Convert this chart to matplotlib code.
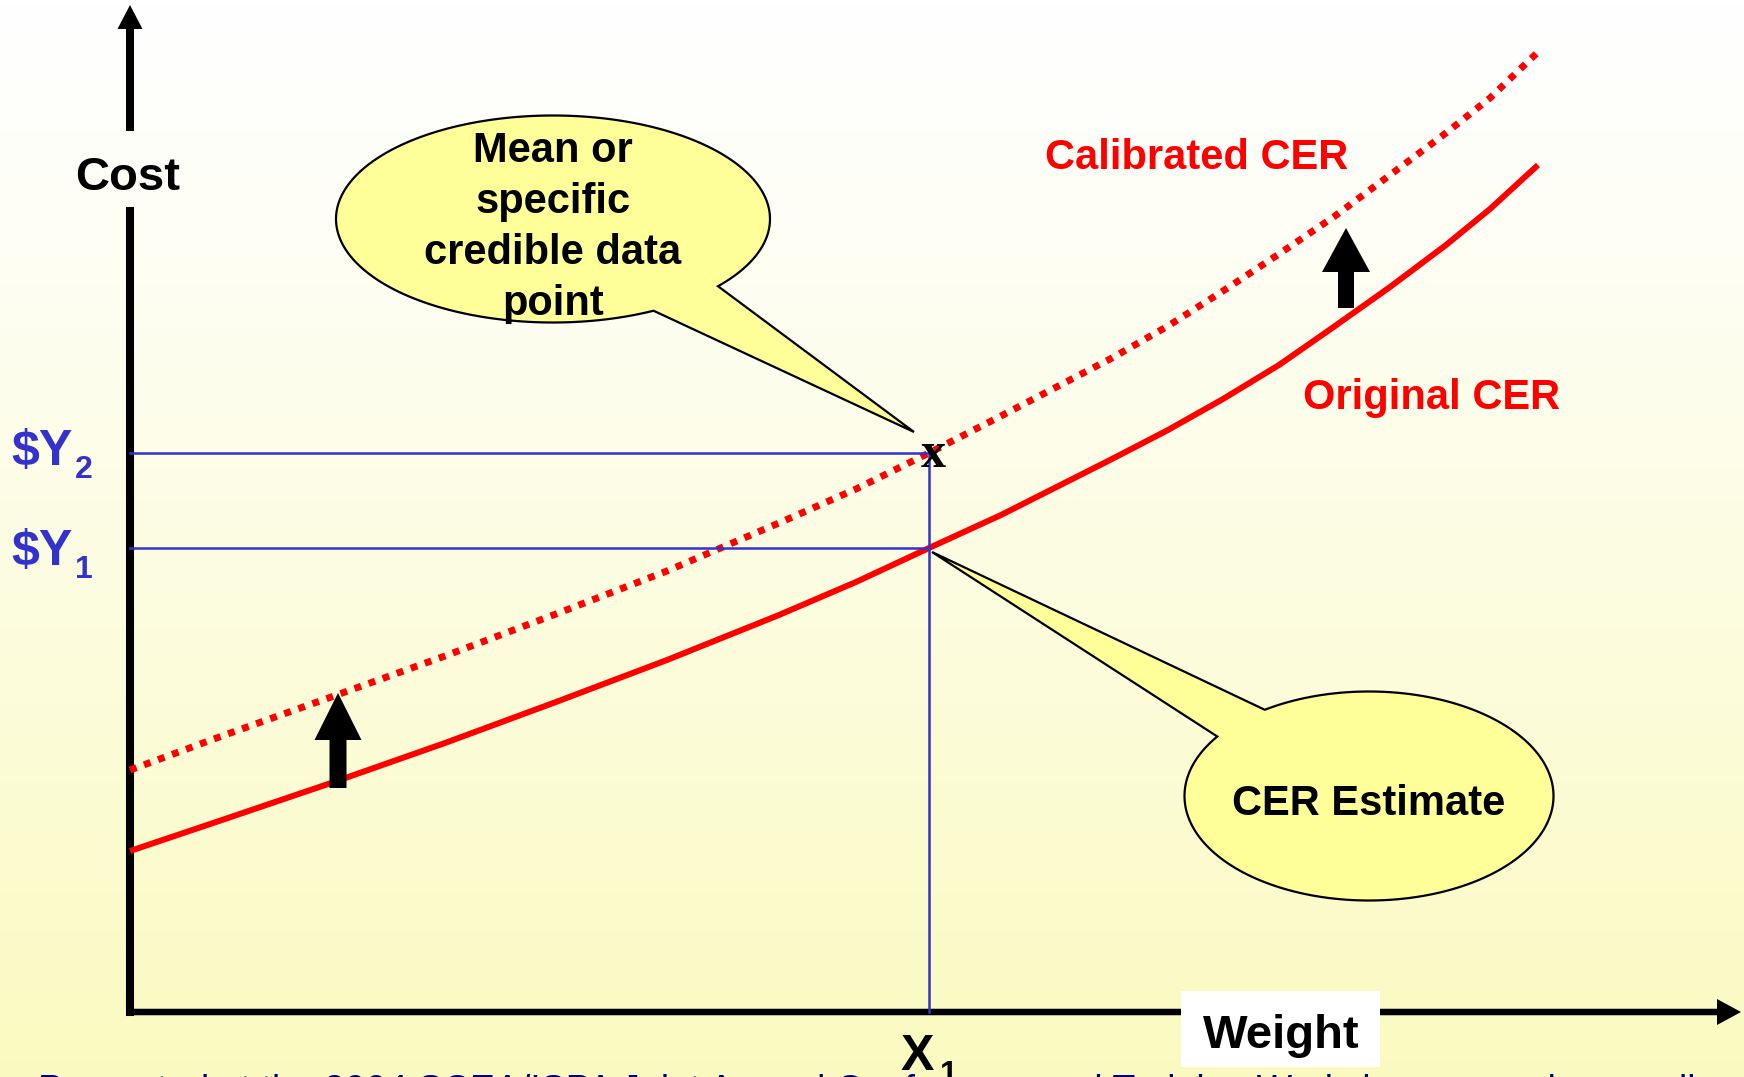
import numpy as np
import matplotlib.pyplot as plt
from matplotlib.patches import Polygon, Rectangle

plt.rcParams['font.family'] = ['Liberation Sans', 'DejaVu Sans']

# values, origin at the corner of the axes
weight = [0, 92, 204, 315, 426, 537, 649, 726, 799, 871, 982, 1038, 1093, 1149, 1205, 1260, 1316, 1360, 1408]
orig_cost = [161, 192, 230, 269, 310, 352, 397, 430, 464, 497, 553, 582, 613, 647, 686, 725, 767, 803, 847]
calib_cost = [242, 276, 316, 356, 398, 441, 489, 523, 559, 596, 654, 686, 721, 758, 796, 837, 879, 914, 960]

x1 = 799
y1 = 464
y2 = 559

red = '#FF0000'
blue = '#3333CC'
bubble_fill = '#FFFF99'


def bubble(ax, cx, cy, w, h, a1, a2, tip):
    # ellipse outline with a gap between angles a1..a2, closed through the tip
    t = np.radians(np.linspace(a2, a1 + 360, 200))
    xs = cx + w / 2 * np.cos(t)
    ys = cy + h / 2 * np.sin(t)
    pts = np.column_stack([xs, ys])
    pts = np.vstack([pts, [tip]])
    ax.add_patch(Polygon(pts, closed=True, fc=bubble_fill, ec='black', lw=1.6, zorder=6))


fig = plt.figure(figsize=(17.44, 10.77), dpi=100)
ax = fig.add_axes([0, 0, 1, 1])
ax.set_xlim(-130, 1614)
ax.set_ylim(-65, 1012)
ax.set_axis_off()

# background gradient white -> pale yellow
top = np.array([255, 255, 255]) / 255
bot = np.array([250, 250, 192]) / 255
f = np.linspace(0, 1, 256) ** 1.2
grad = (top[None, :] * (1 - f[:, None]) + bot[None, :] * f[:, None])[:, None, :]
ax.imshow(grad, extent=[-130, 1614, -65, 1012], aspect='auto', zorder=0)

# axes with arrows
ax.plot([0, 0], [0, 801], color='black', lw=5.8, solid_capstyle='projecting', zorder=3)
ax.arrow(0, 881, 0, 126, width=8, head_width=25, head_length=24,
         length_includes_head=True, fc='black', ec='none', zorder=3)
ax.arrow(0, 0, 1611, 0, width=6.5, head_width=26, head_length=24,
         length_includes_head=True, fc='black', ec='none', zorder=3)

# curves
ax.plot(weight, orig_cost, color=red, lw=4.3, solid_capstyle='butt',
        solid_joinstyle='round', zorder=4)
ax.plot(weight, calib_cost, color=red, lw=5, linestyle=(0, (1.0, 1.15)),
        dash_capstyle='butt', zorder=4)

# guide lines
ax.plot([0, x1], [y1, y1], color=blue, lw=1.8, zorder=5)
ax.plot([0, x1], [y2, y2], color=blue, lw=1.8, zorder=5)
ax.plot([x1, x1], [0, y2], color=blue, lw=1.8, zorder=5)

# shift arrows
ax.arrow(208, 224, 0, 95, width=17, head_width=47, head_length=47,
         length_includes_head=True, fc='black', ec='none', zorder=6)
ax.arrow(1216, 704, 0, 80, width=16, head_width=48, head_length=44,
         length_includes_head=True, fc='black', ec='none', zorder=6)

# callouts
bubble(ax, 423, 793, 434, 207, -62.4, -40.5, (784, 580))
bubble(ax, 1239, 216, 369, 209, 124.4, 145.3, (802, 460))

bold = dict(fontweight='bold', color='black', fontsize=30, ha='center', va='baseline', zorder=7)
for txt, yb in zip(['Mean or', 'specific', 'credible data', 'point'], [850, 799, 748, 697]):
    ax.text(423, yb, txt, **bold)
ax.text(1239, 197, 'CER Estimate', **bold)

ax.text(1067, 843, 'Calibrated CER', fontsize=30, fontweight='bold', color=red,
        ha='center', va='baseline', zorder=7)
ax.text(1302, 603, 'Original CER', fontsize=30, fontweight='bold', color=red,
        ha='center', va='baseline', zorder=7)

ax.text(-2, 822, 'Cost', fontsize=34, fontweight='bold', ha='center', va='baseline', zorder=7)

ax.add_patch(Rectangle((1051, -55), 199, 76, fc='white', ec='none', zorder=6))
ax.text(1151, -36, 'Weight', fontsize=34, fontweight='bold', ha='center', va='baseline', zorder=7)

# Y labels
ax.text(-119, 547, '$Y', fontsize=36, fontweight='bold', color=blue, ha='left', va='baseline')
ax.text(-55, 534, '2', fontsize=23, fontweight='bold', color=blue, ha='left', va='baseline')
ax.text(-119, 447, '$Y', fontsize=36, fontweight='bold', color=blue, ha='left', va='baseline')
ax.text(-55, 434, '1', fontsize=23, fontweight='bold', color=blue, ha='left', va='baseline')

# X label
ax.text(771, -58, 'X', fontsize=36, fontweight='bold', ha='left', va='baseline', zorder=8, clip_on=False)
ax.text(810, -71, '1', fontsize=23, fontweight='bold', ha='left', va='baseline', zorder=8, clip_on=False)

# data point marker
ax.text(803, 545, 'x', fontsize=36, fontweight='bold', family='Liberation Serif',
        ha='center', va='baseline', zorder=8)

# footer, mostly off the bottom edge
ax.text(-92, -90, 'Presented at the 2004 SCEA/ISPA Joint Annual Conference and Training Workshop - www.iceaaonline.com',
        fontsize=27, color='#000080', ha='left', va='baseline', zorder=7, clip_on=False)

fig.savefig('out.png', dpi=100)
